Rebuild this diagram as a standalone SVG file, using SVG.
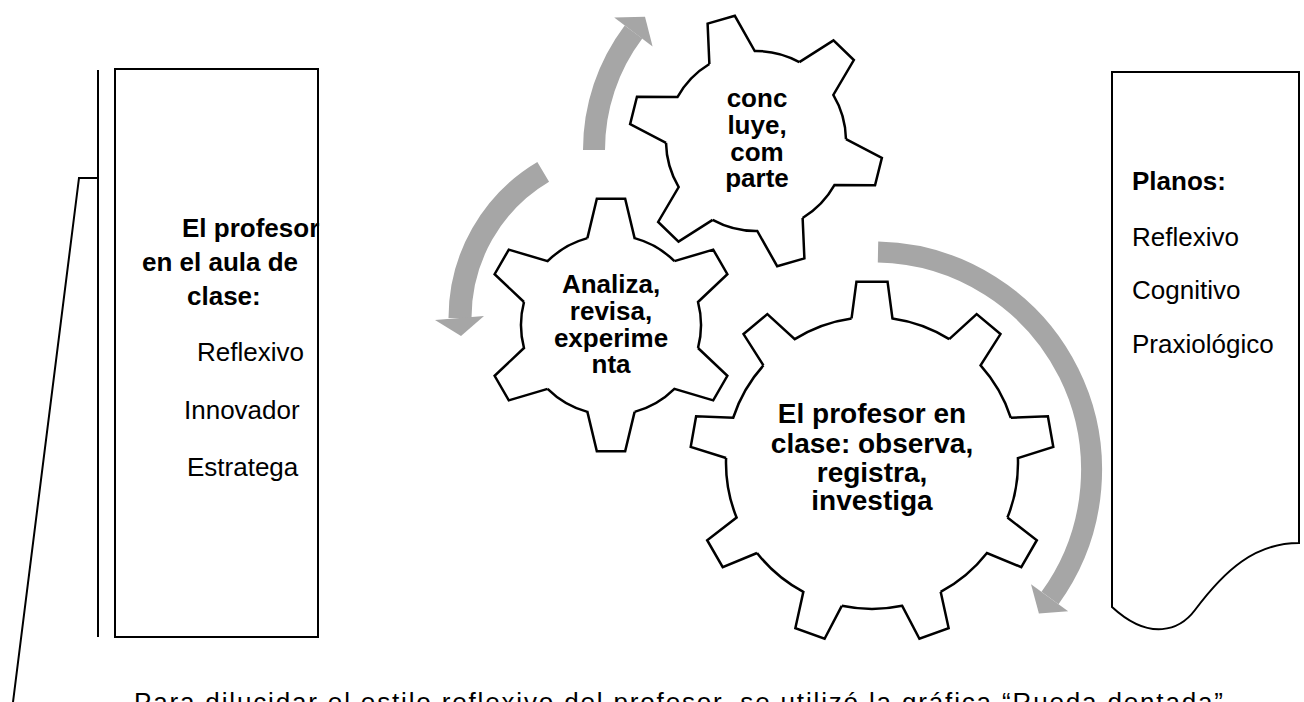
<svg xmlns="http://www.w3.org/2000/svg" width="1304" height="702" viewBox="0 0 1304 702">
<style>
.ln{fill:none;stroke:#000;stroke-width:2}
.box{fill:#fff;stroke:#000;stroke-width:2}
.gf{fill:#fff;stroke:none}
.gs{fill:none;stroke:#000;stroke-width:2.5;stroke-linejoin:miter}
.arc{fill:none;stroke:#A6A6A6}
.ah{fill:#A6A6A6;stroke:none}
.t{font-family:"Liberation Sans",Arial,sans-serif;font-size:26px;fill:#000}
.b{font-weight:bold}
.m{text-anchor:middle}
</style>
<defs>
<path id="s6" d="M86.85,-23.6 L126.2,-14.16 L126.2,14.16 L86.85,23.6 A90,90 0 0 1 63.86,63.42"/>
<path id="s9" d="M144.56,-20.45 L181.34,-15.55 L181.34,15.55 L144.56,20.45 A146,146 0 0 1 123.88,77.26"/>
</defs>
<rect width="1304" height="702" fill="#fff"/>

<g id="connectors">
<path class="arc" stroke-width="22" d="M594,150 A196,196 0 0 1 633.5,32"/>
<polygon class="ah" points="614.2,17.6 645,16.8 652.6,46.5"/>
<path class="arc" stroke-width="23" d="M543.2,171.8 A170,170 0 0 0 460,318"/>
<polygon class="ah" points="435,320 484,316 461,336"/>
<path class="arc" stroke-width="21" d="M878,252 A218,218 0 0 1 1050,598"/>
<polygon class="ah" points="1031,584.3 1068.2,611.3 1038.9,613.4"/>
</g>

<g id="bracket">
<line class="ln" x1="98" y1="70" x2="98" y2="637"/>
<polyline class="ln" points="98,178 79,178 13,702"/>
</g>

<g id="left-box">
<rect class="box" x="115" y="69" width="203" height="568"/>
<text class="t b" x="182" y="237">El profesor</text>
<text class="t b" x="142" y="271">en el aula de</text>
<text class="t b" x="187" y="305">clase:</text>
<text class="t" x="197" y="361">Reflexivo</text>
<text class="t" x="184" y="419">Innovador</text>
<text class="t" x="187" y="476">Estratega</text>
</g>

<g id="gear2">
<g transform="translate(611,325)">
<circle r="90" class="gf"/>
<use href="#s6" class="gf" transform="rotate(30)"/>
<use href="#s6" class="gf" transform="rotate(90)"/>
<use href="#s6" class="gf" transform="rotate(150)"/>
<use href="#s6" class="gf" transform="rotate(210)"/>
<use href="#s6" class="gf" transform="rotate(270)"/>
<use href="#s6" class="gf" transform="rotate(330)"/>
<use href="#s6" class="gs" transform="rotate(30)"/>
<use href="#s6" class="gs" transform="rotate(90)"/>
<use href="#s6" class="gs" transform="rotate(150)"/>
<use href="#s6" class="gs" transform="rotate(210)"/>
<use href="#s6" class="gs" transform="rotate(270)"/>
<use href="#s6" class="gs" transform="rotate(330)"/>
</g>
<text class="t b m" x="611" y="293">Analiza,</text>
<text class="t b m" x="611" y="320">revisa,</text>
<text class="t b m" x="611" y="347">experime</text>
<text class="t b m" x="611" y="373">nta</text>
</g>

<g id="gear1">
<g transform="translate(756,141)">
<circle r="90" class="gf"/>
<use href="#s6" class="gf" transform="rotate(14)"/>
<use href="#s6" class="gf" transform="rotate(74)"/>
<use href="#s6" class="gf" transform="rotate(134)"/>
<use href="#s6" class="gf" transform="rotate(194)"/>
<use href="#s6" class="gf" transform="rotate(254)"/>
<use href="#s6" class="gf" transform="rotate(314)"/>
<use href="#s6" class="gs" transform="rotate(14)"/>
<use href="#s6" class="gs" transform="rotate(74)"/>
<use href="#s6" class="gs" transform="rotate(134)"/>
<use href="#s6" class="gs" transform="rotate(194)"/>
<use href="#s6" class="gs" transform="rotate(254)"/>
<use href="#s6" class="gs" transform="rotate(314)"/>
</g>
<text class="t b m" x="757" y="107">conc</text>
<text class="t b m" x="757" y="134">luye,</text>
<text class="t b m" x="757" y="161">com</text>
<text class="t b m" x="757" y="187">parte</text>
</g>

<g id="gear3">
<g transform="translate(872,463)">
<circle r="146" class="gf"/>
<use href="#s9" class="gf" transform="rotate(-90)"/>
<use href="#s9" class="gf" transform="rotate(-50)"/>
<use href="#s9" class="gf" transform="rotate(-10)"/>
<use href="#s9" class="gf" transform="rotate(30)"/>
<use href="#s9" class="gf" transform="rotate(70)"/>
<use href="#s9" class="gf" transform="rotate(110)"/>
<use href="#s9" class="gf" transform="rotate(150)"/>
<use href="#s9" class="gf" transform="rotate(190)"/>
<use href="#s9" class="gf" transform="rotate(230)"/>
<use href="#s9" class="gs" transform="rotate(-90)"/>
<use href="#s9" class="gs" transform="rotate(-50)"/>
<use href="#s9" class="gs" transform="rotate(-10)"/>
<use href="#s9" class="gs" transform="rotate(30)"/>
<use href="#s9" class="gs" transform="rotate(70)"/>
<use href="#s9" class="gs" transform="rotate(110)"/>
<use href="#s9" class="gs" transform="rotate(150)"/>
<use href="#s9" class="gs" transform="rotate(190)"/>
<use href="#s9" class="gs" transform="rotate(230)"/>
</g>
<text class="t b m" x="872" y="423" style="font-size:28px">El profesor en</text>
<text class="t b m" x="872" y="453" style="font-size:28px">clase: observa,</text>
<text class="t b m" x="872" y="482" style="font-size:28px">registra,</text>
<text class="t b m" x="872" y="510" style="font-size:28px">investiga</text>
</g>

<g id="right-box">
<path class="box" d="M1112,72 H1299 V543 C1255,543 1225,570 1195,610 C1180,630 1150,642 1112,607 Z"/>
<text class="t b" x="1132" y="190">Planos:</text>
<text class="t" x="1132" y="246">Reflexivo</text>
<text class="t" x="1132" y="299">Cognitivo</text>
<text class="t" x="1132" y="353">Praxiológico</text>
</g>

<g id="caption">
<text class="t" x="134" y="711" textLength="1089" lengthAdjust="spacing">Para dilucidar el estilo reflexivo del profesor, se utilizó la gráfica “Rueda dentada”</text>
</g>
</svg>
